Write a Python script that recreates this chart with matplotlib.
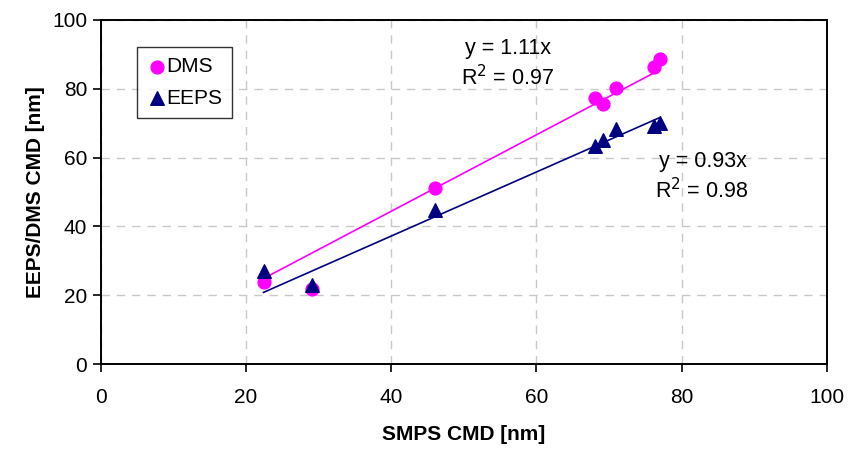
import numpy as np
import matplotlib
matplotlib.use("Agg")
import matplotlib.pyplot as plt

plt.rcParams['font.family'] = ['Liberation Sans', 'DejaVu Sans']

# values
smps = [22.4, 29.1, 46.0, 68.0, 69.1, 71.0, 76.2, 77.0]
dms = [23.8, 21.7, 51.2, 77.2, 75.5, 80.3, 86.3, 88.5]
eeps = [27.0, 23.0, 44.8, 63.2, 65.2, 68.2, 69.2, 70.0]
dms_slope, dms_r2 = 1.11, 0.97
eeps_slope, eeps_r2 = 0.93, 0.98

fig = plt.figure(figsize=(8.48, 4.49), dpi=100)
ax = fig.add_axes([0.119, 0.189, 0.856, 0.767])

ax.scatter(smps, dms, s=85, marker='o', color='#ff00ff', label='DMS', zorder=3)
ax.scatter(smps, eeps, s=95, marker='^', color='#000080', label='EEPS', zorder=3)

xfit = np.array([min(smps), max(smps)])
ax.plot(xfit, dms_slope * xfit, color='#ff00ff', lw=1.2, zorder=2)
ax.plot(xfit, eeps_slope * xfit, color='#000080', lw=1.2, zorder=2)

fs_txt = 15.5
ax.text(56.1, 90.0, "y = %.2fx" % dms_slope, ha='center', va='baseline', fontsize=fs_txt)
ax.text(56.0, 80.9, "R$^2$ = %.2f" % dms_r2, ha='center', va='baseline', fontsize=fs_txt)
ax.text(82.9, 57.2, "y = %.2fx" % eeps_slope, ha='center', va='baseline', fontsize=fs_txt)
ax.text(82.8, 48.2, "R$^2$ = %.2f" % eeps_r2, ha='center', va='baseline', fontsize=fs_txt)

ax.set_xlim(0, 100)
ax.set_ylim(0, 100)
ax.set_xticks(range(0, 101, 20))
ax.set_yticks(range(0, 101, 20))
ax.tick_params(labelsize=15, direction='out', length=6, width=1.2)
ax.tick_params(axis='x', pad=11)
ax.tick_params(axis='y', pad=4)
ax.grid(True, color='#c8c8c8', linestyle=(0, (6, 5)), linewidth=1)
ax.set_axisbelow(True)
for s in ax.spines.values():
    s.set_linewidth(1.4)

ax.set_xlabel("SMPS CMD [nm]", fontsize=15, fontweight='bold', labelpad=13)
ax.set_ylabel("EEPS/DMS CMD [nm]", fontsize=15, fontweight='bold', labelpad=5)

leg = ax.legend(loc='upper left', bbox_to_anchor=(0.0496, 0.921), fontsize=15,
                frameon=True, fancybox=False, edgecolor='black',
                handletextpad=0.0, borderpad=0.5, labelspacing=0.6,
                handlelength=0.9, borderaxespad=0, scatterpoints=1)
leg.get_frame().set_linewidth(1)

plt.savefig("out.png", dpi=100)
